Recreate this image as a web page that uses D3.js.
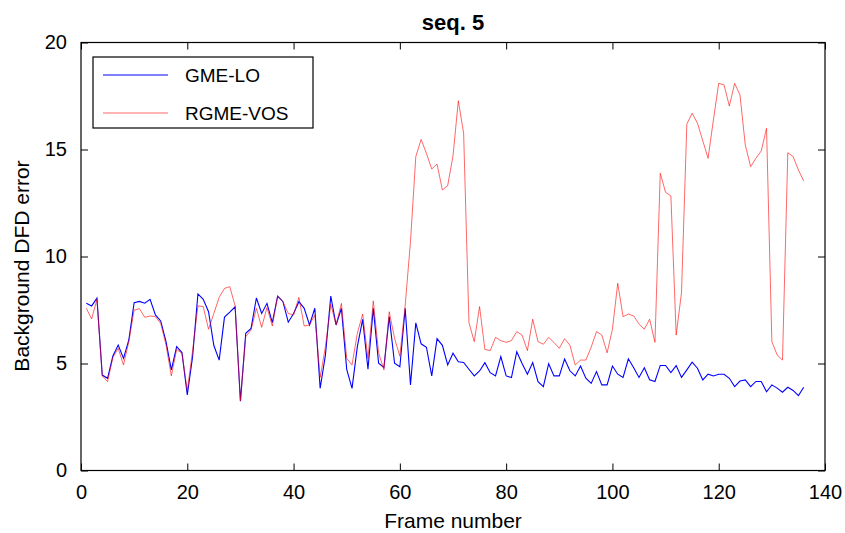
<!DOCTYPE html>
<html>
<head>
<meta charset="utf-8">
<script src="https://cdn.jsdelivr.net/npm/d3@7"></script>
<style>
  body { margin: 0; background: #fff; }
  text { font-family: "Liberation Sans", Arial, sans-serif; }
</style>
</head>
<body>
<script>
// frame numbers 1..136
const frames = d3.range(1, 137);

// GME-LO (blue)
const gmeLo = [
  7.81, 7.69, 8.05, 4.46, 4.31, 5.35, 5.86, 5.24, 6.10, 7.84,
  7.90, 7.82, 8.00, 7.27, 6.99, 6.02, 4.70, 5.79, 5.51, 3.53,
  5.32, 8.25, 8.00, 7.42, 5.84, 5.16, 7.17, 7.40, 7.65, 3.24,
  6.41, 6.64, 8.06, 7.34, 7.81, 6.91, 8.15, 7.89, 6.93, 7.34,
  7.89, 7.58, 6.80, 7.58, 3.84, 5.40, 8.15, 6.80, 7.58, 4.73,
  3.84, 5.79, 7.06, 4.73, 7.58, 5.01, 4.82, 7.19, 5.01, 4.85,
  7.58, 4.00, 6.90, 5.92, 5.76, 4.42, 6.16, 5.85, 4.93, 5.48,
  5.08, 5.05, 4.73, 4.42, 4.65, 5.04, 4.57, 4.42, 5.32, 4.42,
  4.34, 5.55, 5.00, 4.50, 5.04, 4.15, 3.92, 4.99, 4.42, 4.42,
  5.21, 4.66, 4.42, 4.88, 4.31, 4.07, 4.62, 4.00, 4.00, 4.88,
  4.50, 4.35, 5.22, 4.80, 4.35, 4.80, 4.24, 4.16, 4.91, 4.91,
  4.58, 4.90, 4.35, 4.70, 5.06, 4.78, 4.23, 4.50, 4.42, 4.50,
  4.50, 4.31, 3.92, 4.18, 4.23, 3.92, 4.16, 4.16, 3.68, 4.00,
  3.85, 3.66, 3.89, 3.74, 3.50, 3.89
];

// RGME-VOS (red)
const rgmeVos = [
  7.58, 7.08, 8.00, 4.42, 4.15, 5.28, 5.71, 4.93, 6.02, 7.50,
  7.56, 7.16, 7.22, 7.19, 6.88, 5.86, 4.42, 5.66, 5.47, 3.73,
  5.60, 7.69, 7.66, 6.60, 7.34, 8.09, 8.51, 8.59, 7.69, 3.26,
  6.25, 6.56, 7.58, 6.69, 7.62, 6.75, 8.15, 7.89, 7.34, 7.27,
  8.09, 6.75, 6.80, 7.27, 4.35, 5.79, 7.77, 6.80, 7.81, 5.24,
  4.93, 6.41, 7.31, 5.24, 7.93, 5.50, 4.70, 7.42, 6.18, 5.34,
  7.70, 10.7, 14.67, 15.47, 14.82, 14.09, 14.32, 13.11, 13.31, 14.7,
  17.28, 15.76, 6.91, 6.02, 7.66, 5.66, 5.60, 6.22, 6.07, 5.99,
  6.07, 6.49, 6.33, 5.60, 7.07, 6.02, 5.90, 6.22, 5.98, 5.71,
  6.16, 5.85, 4.93, 5.16, 5.16, 5.76, 6.49, 6.33, 5.50, 6.60,
  8.75, 7.19, 7.31, 7.22, 6.85, 6.60, 7.07, 5.99, 13.89, 13.00,
  12.83, 6.33, 8.31, 16.19, 16.69, 16.23, 15.41, 14.59, 16.38, 18.09,
  18.02, 17.03, 18.09, 17.55, 15.21, 14.20, 14.59, 14.93, 15.99, 6.02,
  5.40, 5.16, 14.85, 14.67, 14.04, 13.53
];

const seriesNames = ["GME-LO", "RGME-VOS"];
const seriesColors = ["#0000ff", "#ff0000"];
const xTicks = [0, 20, 40, 60, 80, 100, 120, 140];
const yTicks = [0, 5, 10, 15, 20];

const width = 845, height = 533;
const svg = d3.select("body").append("svg")
  .attr("width", width)
  .attr("height", height);

const x = d3.scaleLinear().domain([0, 140]).range([81, 825]);
const y = d3.scaleLinear().domain([0, 20]).range([470.5, 42.5]);

// lines
const line = d3.line().x((d, i) => x(frames[i])).y(d => y(d));

svg.append("path").datum(gmeLo)
  .attr("fill", "none")
  .attr("stroke", seriesColors[0])
  .attr("stroke-width", 1.1)
  .attr("d", line);

svg.append("path").datum(rgmeVos)
  .attr("fill", "none")
  .attr("stroke", seriesColors[1])
  .attr("stroke-width", 0.8)
  .attr("stroke-opacity", 0.75)
  .attr("d", line);

// axes (ticks pointing inward, like matlab)
const tk = 7;
svg.append("g")
  .attr("transform", `translate(0,${y(0)})`)
  .call(d3.axisBottom(x).tickValues(xTicks).tickSize(-tk).tickPadding(14).tickFormat(d3.format("d")))
  .call(g => g.select(".domain").remove());
svg.append("g")
  .attr("transform", `translate(0,${y(20)})`)
  .call(d3.axisTop(x).tickValues(xTicks).tickSize(-tk).tickFormat(""))
  .call(g => g.select(".domain").remove());
svg.append("g")
  .attr("transform", `translate(${x(0)},0)`)
  .call(d3.axisLeft(y).tickValues(yTicks).tickSize(-tk).tickPadding(14).tickFormat(d3.format("d")))
  .call(g => g.select(".domain").remove());
svg.append("g")
  .attr("transform", `translate(${x(140)},0)`)
  .call(d3.axisRight(y).tickValues(yTicks).tickSize(-tk).tickFormat(""))
  .call(g => g.select(".domain").remove());

svg.selectAll(".tick line").attr("stroke", "#000").attr("stroke-width", 1);
svg.selectAll(".tick text")
  .style("font-family", "'Liberation Sans', Arial, sans-serif")
  .style("font-size", "20px")
  .attr("fill", "#000");

// frame box
svg.append("rect")
  .attr("x", x(0)).attr("y", y(20))
  .attr("width", x(140) - x(0)).attr("height", y(0) - y(20))
  .attr("fill", "none").attr("stroke", "#000").attr("stroke-width", 1.2);

// title and labels
svg.append("text")
  .attr("x", 453).attr("y", 30)
  .attr("text-anchor", "middle")
  .style("font-size", "22px").style("font-weight", "bold")
  .text("seq. 5");

svg.append("text")
  .attr("x", 453).attr("y", 528)
  .attr("text-anchor", "middle")
  .style("font-size", "21px")
  .text("Frame number");

svg.append("text")
  .attr("transform", "translate(29,266) rotate(-90)")
  .attr("text-anchor", "middle")
  .style("font-size", "21px")
  .text("Background DFD error");

// legend
const legend = svg.append("g");
legend.append("rect")
  .attr("x", 93).attr("y", 57).attr("width", 220).attr("height", 71)
  .attr("fill", "#fff").attr("stroke", "#000").attr("stroke-width", 1.2);

const entries = legend.selectAll(".entry")
  .data(seriesNames)
  .enter().append("g")
  .attr("class", "entry")
  .attr("transform", (d, i) => `translate(0,${75 + i * 38})`);

entries.append("line")
  .attr("x1", 103).attr("x2", 168)
  .attr("stroke", (d, i) => seriesColors[i])
  .attr("stroke-width", (d, i) => i === 0 ? 1.1 : 0.8)
  .attr("stroke-opacity", (d, i) => i === 0 ? 1 : 0.75);

entries.append("text")
  .attr("x", 185).attr("y", 7)
  .style("font-size", "19px")
  .text(d => d);
</script>
</body>
</html>
